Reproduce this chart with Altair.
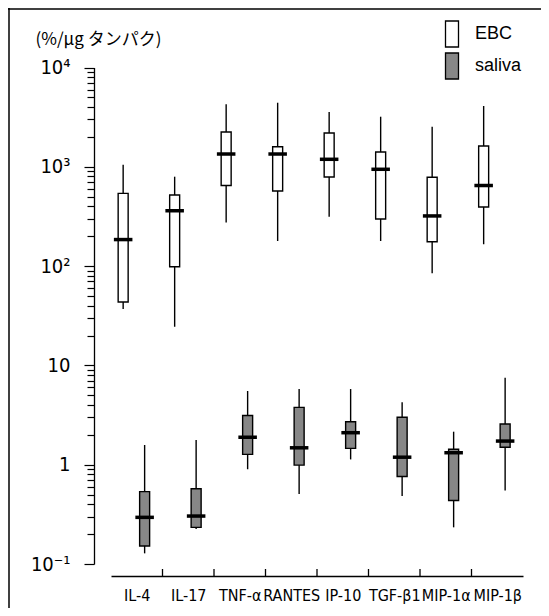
import json
import altair as alt
import pandas as pd

# ---- data ----
categories = ["IL-4", "IL-17", "TNF-α", "RANTES", "IP-10", "TGF-β1", "MIP-1α", "MIP-1β"]
groups = ["EBC", "saliva"]

ebc_min = [37, 24.5, 275, 179, 314, 179, 84.6, 166]
ebc_q1 = [43.5, 98.6, 648, 571, 789, 298, 176, 394]
ebc_median = [185, 361, 1345, 1345, 1190, 944, 320, 648]
ebc_q3 = [540, 520, 2241, 1594, 2190, 1410, 785, 1620]
ebc_max = [1050, 795, 4260, 4418, 3564, 3195, 2535, 4096]

saliva_min = [0.128, 0.225, 0.90, 0.507, 1.13, 0.484, 0.234, 0.55]
saliva_q1 = [0.152, 0.234, 1.27, 0.99, 1.46, 0.76, 0.436, 1.50]
saliva_median = [0.295, 0.304, 1.89, 1.48, 2.10, 1.19, 1.32, 1.73]
saliva_q3 = [0.535, 0.573, 3.13, 3.78, 2.71, 3.0, 1.43, 2.57]
saliva_max = [1.58, 1.77, 5.52, 5.78, 5.78, 4.25, 2.15, 7.52]

decades = [0.1, 1, 10, 100, 1000, 10000]
y_axis_labels = ["10⁻¹", "1", "10", "10²", "10³", "10⁴"]
y_title = "(%/μg タンパク)"

# ---- table ----
rows = []
series = {
    "EBC": (ebc_min, ebc_q1, ebc_median, ebc_q3, ebc_max),
    "saliva": (saliva_min, saliva_q1, saliva_median, saliva_q3, saliva_max),
}
for g in groups:
    lo, q1, med, q3, hi = series[g]
    for i, c in enumerate(categories):
        rows.append(dict(cat=c, idx=i, group=g, lo=lo[i], q1=q1[i], med=med[i], q3=q3[i], hi=hi[i]))
df = pd.DataFrame(rows)
bounds = pd.DataFrame({"b": [i + 0.5 for i in range(len(categories) - 1)]})
one = pd.DataFrame({"a": [0]})

W, H = 533, 600
AXIS_Y = 568  # x-axis line, in plot coordinates
NARROW = "Liberation Sans Narrow, Arial Narrow, DejaVu Sans Condensed, sans-serif"

xs = alt.Scale(domain=[-0.5, len(categories) - 0.5], range=[103, 515], nice=False, zero=False)
ys = alt.Scale(type="log", domain=[0.1, 10000], range=[556, 59.5], nice=False)

tick_vals = [round(m * 10 ** e, 6) for e in range(-1, 4) for m in range(1, 10)] + [10000]
label_expr = " : ".join(
    f"datum.value == {d} ? '{l}'" for d, l in zip(decades, y_axis_labels)
) + " : ''"
decade_test = f"indexof({json.dumps(decades)}, datum.value) >= 0"

yaxis = alt.Axis(
    values=tick_vals,
    labelExpr=label_expr,
    tickSize={"condition": {"test": decade_test, "value": 10}, "value": 7},
    tickColor="black",
    tickWidth=1.2,
    domainColor="black",
    domainWidth=1.3,
    offset=-86,
    labelFont=NARROW,
    labelFontSize=20,
    labelColor="black",
    labelPadding=14,
    labelOverlap=False,
    grid=False,
    title=y_title,
    titleAngle=0,
    titleAlign="left",
    titleBaseline="alphabetic",
    titleX=-59,
    titleY=36,
    titleFont="Noto Sans CJK JP",
    titleFontSize=17,
    titleFontWeight="normal",
    titleColor="black",
)
xaxis = alt.Axis(
    values=list(range(len(categories))),
    labelExpr=f"{json.dumps(categories, ensure_ascii=False)}[datum.value]",
    ticks=False,
    domainColor="black",
    domainWidth=1.3,
    offset=-(H - AXIS_Y),
    labelFont=NARROW,
    labelFontSize=16,
    labelColor="black",
    labelPadding=11,
    labelOverlap=False,
    grid=False,
    title=None,
)

base = alt.Chart(df).transform_calculate(
    pos="datum.idx + (datum.group == 'EBC' ? -0.264 : 0.153)"
).transform_calculate(
    bx1="datum.pos - 0.097", bx2="datum.pos + 0.097",
    mx1="datum.pos - 0.18", mx2="datum.pos + 0.18",
)

whisk = base.mark_rule(color="black", strokeWidth=1.4).encode(
    x=alt.X("pos:Q", scale=xs, axis=xaxis),
    y=alt.Y("lo:Q", scale=ys, axis=yaxis),
    y2="hi:Q",
)
boxes = base.mark_rect(stroke="black", strokeWidth=1.4).encode(
    x=alt.X("bx1:Q", scale=xs, axis=xaxis),
    x2="bx2:Q",
    y=alt.Y("q1:Q", scale=ys, axis=yaxis),
    y2="q3:Q",
    fill=alt.Fill(
        "group:N",
        scale=alt.Scale(domain=groups, range=["white", "#878787"]),
        legend=alt.Legend(
            orient="none", legendX=430, legendY=12, title=None,
            symbolType="M-0.5,-1H0.5V1H-0.5Z", symbolSize=676,
            symbolStrokeColor="black", symbolStrokeWidth=1.3, symbolOpacity=1,
            labelFont="Liberation Sans", labelFontSize=18, labelColor="black",
            labelOffset=9, rowPadding=0, padding=0,
        ),
    ),
)
medians = base.mark_rule(color="black", strokeWidth=3.5).encode(
    x=alt.X("mx1:Q", scale=xs, axis=xaxis),
    x2="mx2:Q",
    y=alt.Y("med:Q", scale=ys, axis=yaxis),
)
xticks = alt.Chart(bounds).mark_rule(color="black", strokeWidth=1.3).encode(
    x=alt.X("b:Q", scale=xs, axis=xaxis),
    y=alt.value(AXIS_Y - 7),
    y2=alt.value(AXIS_Y),
)
frame_left = alt.Chart(one).mark_rule(color="black", strokeWidth=1.5).encode(
    x=alt.value(1), y=alt.value(0), y2=alt.value(H)
)
frame_top = alt.Chart(one).mark_rule(color="black", strokeWidth=1.5).encode(
    x=alt.value(0), x2=alt.value(W), y=alt.value(1)
)

chart = alt.layer(whisk, boxes, medians, xticks, frame_left, frame_top).properties(
    width=W, height=H, padding=0, autosize=alt.AutoSizeParams(type="none"),
    background="white",
).configure_view(stroke=None)

chart.save("out.html", embed_options={"renderer": "svg", "actions": False})
